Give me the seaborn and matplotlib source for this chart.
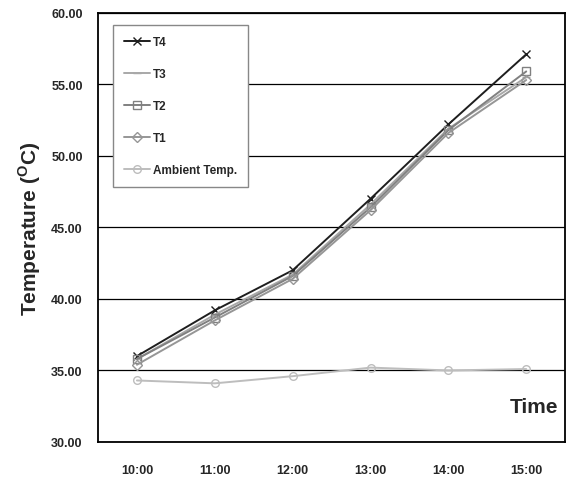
import matplotlib
import matplotlib.pyplot as plt
import pandas as pd
import seaborn as sns
from matplotlib.ticker import FixedLocator

matplotlib.use("agg")

times = ["10:00", "11:00", "12:00", "13:00", "14:00", "15:00"]
t4 = [36.0, 39.2, 42.0, 47.0, 52.2, 57.1]
t3 = [35.8, 38.9, 41.7, 46.6, 51.9, 55.5]
t2 = [35.8, 38.7, 41.6, 46.4, 51.8, 55.9]
t1 = [35.4, 38.5, 41.4, 46.2, 51.6, 55.3]
ambient = [34.3, 34.1, 34.6, 35.2, 35.0, 35.1]

series = [
    ("T4", t4, "#1e1e1e", "x"),
    ("T3", t3, "#a8a8a8", "_"),
    ("T2", t2, "#808080", "s"),
    ("T1", t1, "#969696", "D"),
    ("Ambient Temp.", ambient, "#bdbdbd", "o"),
]

sns.set_style("white")
plt.rcParams["font.family"] = ["Liberation Sans", "DejaVu Sans"]

fig = plt.figure(figsize=(5.68, 4.85), dpi=100)
ax = fig.add_axes([0.1725, 0.0866, 0.8225, 0.885])

for name, vals, color, mk in series:
    df = pd.DataFrame({"time": times, "temp": vals})
    sns.lineplot(
        data=df, x="time", y="temp", ax=ax, color=color, marker=mk,
        markersize=5.5, markerfacecolor="none", markeredgecolor=color,
        markeredgewidth=1.0, linewidth=1.4, label=name, sort=False,
    )

ax.set_xlim(-0.5, 5.5)
ax.set_ylim(30, 60)
ax.set_yticks(range(30, 61, 5))
ax.set_yticklabels([f"{v:.2f}" for v in range(30, 61, 5)],
                   fontweight="bold", fontsize=9)
ax.set_xticks(range(len(times)))
ax.set_xticklabels(times, fontweight="bold", fontsize=9)
ax.xaxis.set_minor_locator(FixedLocator([i - 0.5 for i in range(len(times) + 1)]))
ax.tick_params(axis="x", which="major", length=0, pad=16)
ax.tick_params(axis="x", which="minor", length=5, width=0.8, direction="out",
               color="#333333")
ax.tick_params(axis="y", length=5, width=0.8, direction="out", color="#333333",
               pad=6)

ax.grid(True, axis="y", color="black", linewidth=0.9)
ax.set_axisbelow(True)
for s in ax.spines.values():
    s.set_color("black")
    s.set_linewidth(1.3)

ax.set_xlabel("")
ax.set_ylabel(r"Temperature ($^{\mathregular{O}}$C)", fontsize=15,
              fontweight="bold", labelpad=6)
ax.text(0.985, 0.06, "Time", transform=ax.transAxes, ha="right", va="bottom",
        fontsize=15, fontweight="bold")

leg = ax.legend(loc="upper left", bbox_to_anchor=(0.02, 0.985),
                prop={"weight": "bold", "size": 8.5}, labelspacing=1.7,
                handlelength=2.2, handletextpad=0.3, borderpad=0.9,
                fancybox=False, framealpha=1)
leg.get_frame().set_edgecolor("#888888")
leg.get_frame().set_linewidth(1.0)

fig.savefig("out.png", dpi=100)
